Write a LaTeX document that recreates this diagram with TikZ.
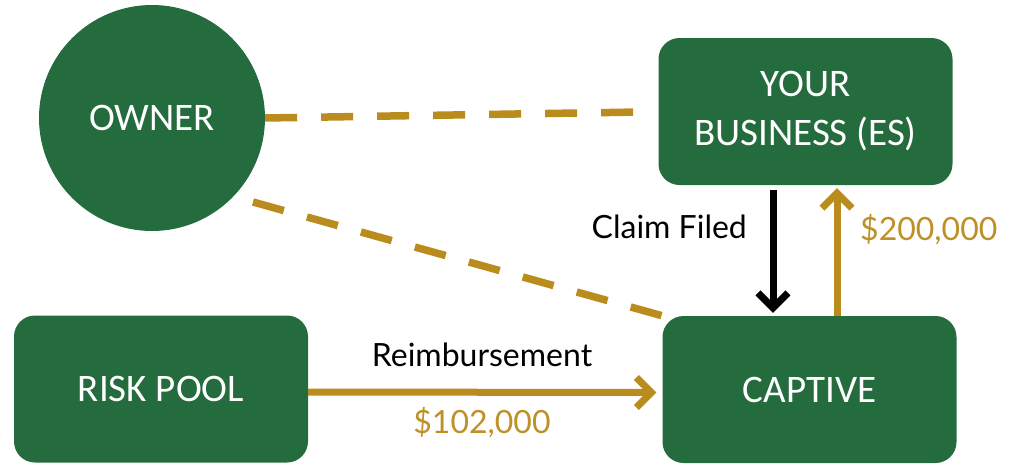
\documentclass[tikz,border=0pt]{standalone}
\usepackage{fontspec}
\setmainfont{Carlito}
\newfontfamily\labelfont{Lato}
\usetikzlibrary{arrows.meta}
\definecolor{boxgreen}{HTML}{246B3E}
\definecolor{gold}{HTML}{BA8C1E}
\definecolor{goldtext}{HTML}{BE9028}
\tikzset{
  entity/.style={fill=boxgreen, text=white, font=\fontsize{39}{49}\selectfont, align=center, inner sep=0pt},
  boxnode/.style={entity, rectangle, rounded corners=21pt, minimum width=294pt, minimum height=147pt},
  link/.style={draw=gold, line width=7.5pt, dash pattern=on 32pt off 24pt},
  flow/.style={line width=7pt, -{Straight Barb[length=15pt,width=30pt]}},
  lbl/.style={font=\labelfont\fontsize{32}{38}\selectfont, inner sep=0pt},
}
\begin{document}
\begin{tikzpicture}[x=1pt, y=-1pt]
  \useasboundingbox (0,0) rectangle (1015,464);

  % parties
  \node[entity, circle, minimum size=226pt] (owner) at (152,118) {OWNER};
  \node[boxnode] (business) at (805.5,111.5) {YOUR\\BUSINESS (ES)};
  \node[boxnode] (captive) at (809.5,389.5) {CAPTIVE};
  \node[boxnode] (pool) at (161,389) {RISK POOL};

  % ownership links
  \coordinate (ownerlink) at (640,112);
  \coordinate (ownerlow) at (253,202);
  \draw[link] (owner.east) -- (ownerlink);
  \draw[link] (ownerlow) -- (captive.north west);

  % claim and payment flows (shifts are in page points: positive is up)
  \coordinate (claimx) at (773,0);
  \coordinate (payx) at (837,0);
  \draw[flow, draw=black] ([yshift=-5pt]business.south -| claimx) -- ([yshift=3pt]captive.north -| claimx);
  \draw[flow, draw=gold] (captive.north -| payx) -- ([yshift=-3pt]business.south -| payx);
  \draw[flow, draw=gold] ([yshift=-3pt]pool.east) -- ([xshift=-6pt,yshift=-3pt]captive.west);

  % flow labels
  \node[lbl, anchor=base east] (claimlbl) at (747,238) {Claim Filed};
  \node[lbl, anchor=base west, text=goldtext] (paylbl) at (860,240) {\$200,000};
  \node[lbl, anchor=base] (reimblbl) at (482,366) {Reimbursement};
  \node[lbl, anchor=base, text=goldtext] (reimbamt) at (482,433) {\$102,000};
\end{tikzpicture}
\end{document}
